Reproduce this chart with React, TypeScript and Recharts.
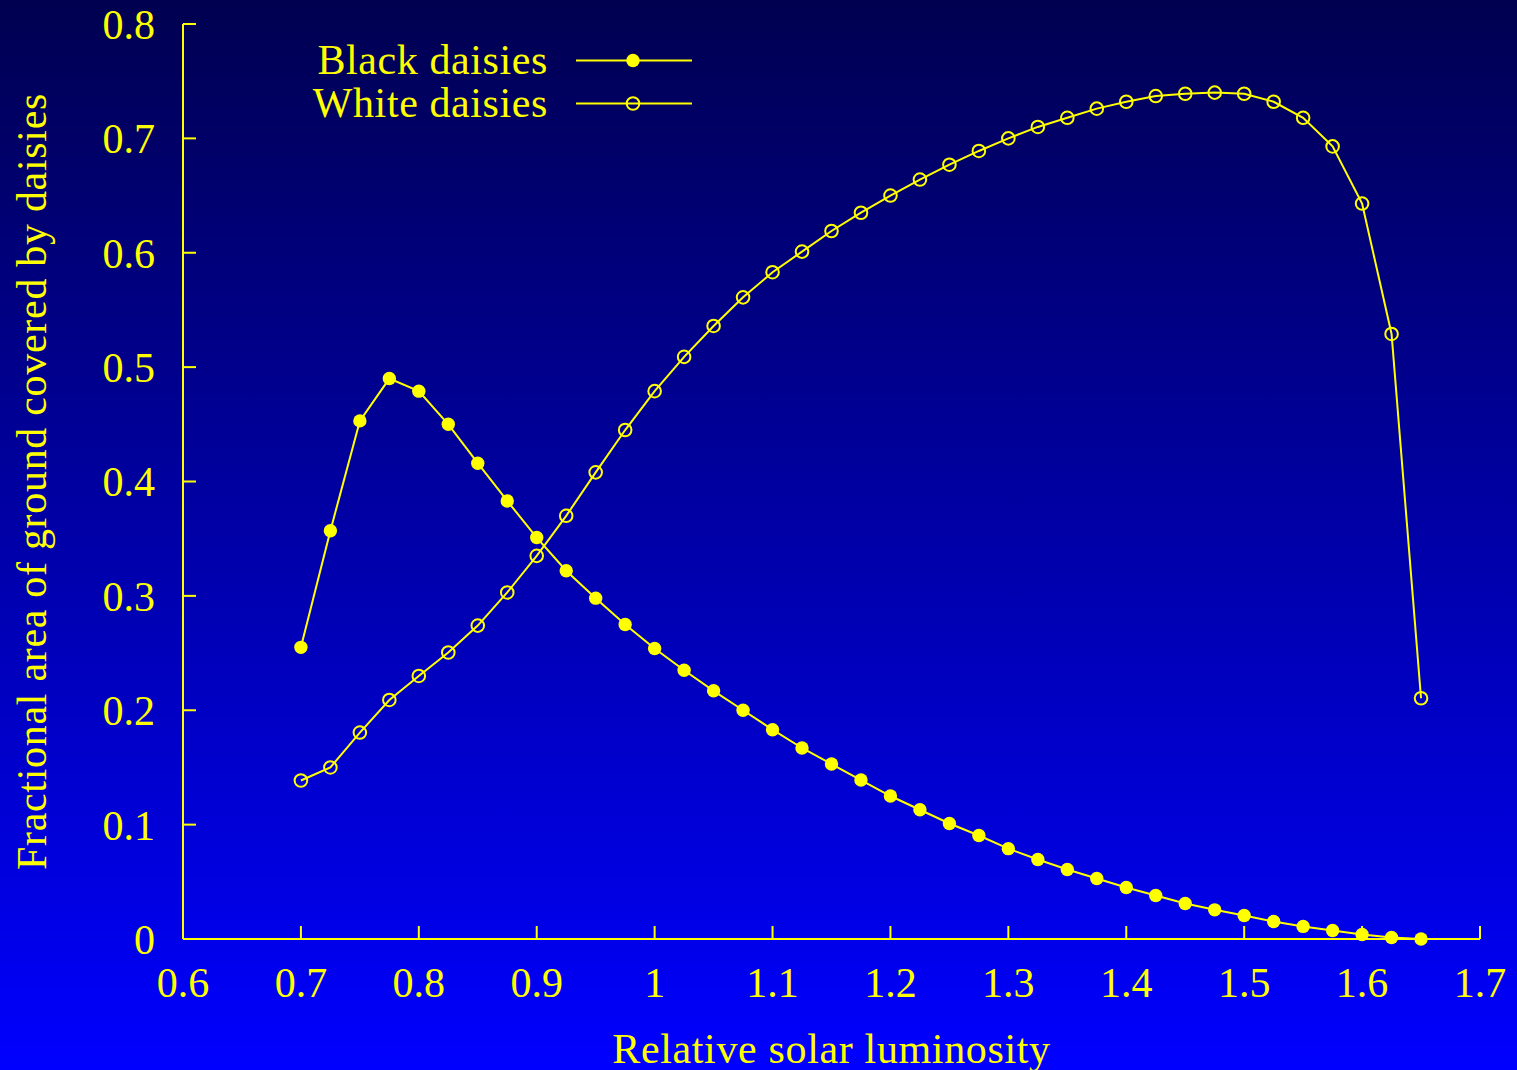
import React from 'react'
import { LineChart, Line, XAxis, YAxis, Legend, Label } from 'recharts'

const luminosity = [
  0.7, 0.725, 0.75, 0.775, 0.8, 0.825, 0.85, 0.875, 0.9, 0.925,
  0.95, 0.975, 1.0, 1.025, 1.05, 1.075, 1.1, 1.125, 1.15, 1.175,
  1.2, 1.225, 1.25, 1.275, 1.3, 1.325, 1.35, 1.375, 1.4, 1.425,
  1.45, 1.475, 1.5, 1.525, 1.55, 1.575, 1.6, 1.625, 1.65,
]

const blackDaisies = [
  0.255, 0.357, 0.453, 0.49, 0.479, 0.45, 0.416, 0.383, 0.351, 0.322,
  0.298, 0.275, 0.254, 0.235, 0.217, 0.2, 0.183, 0.167, 0.153, 0.139,
  0.125, 0.113, 0.101, 0.0905, 0.079, 0.0695, 0.0608, 0.0529, 0.045, 0.038,
  0.031, 0.0255, 0.0205, 0.0153, 0.011, 0.0074, 0.004, 0.0013, 0.0,
]

const whiteDaisies = [
  0.1386, 0.15, 0.1805, 0.209, 0.23, 0.2505, 0.274, 0.303, 0.335, 0.37,
  0.408, 0.445, 0.479, 0.509, 0.536, 0.561, 0.583, 0.601, 0.619, 0.635,
  0.65, 0.664, 0.677, 0.689, 0.7, 0.71, 0.718, 0.726, 0.732, 0.737,
  0.739, 0.74, 0.739, 0.732, 0.718, 0.693, 0.643, 0.529, 0.2105,
]

const xTicks = [0.6, 0.7, 0.8, 0.9, 1, 1.1, 1.2, 1.3, 1.4, 1.5, 1.6, 1.7]
const yTicks = [0, 0.1, 0.2, 0.3, 0.4, 0.5, 0.6, 0.7, 0.8]

const seriesNames = { black: 'Black daisies', white: 'White daisies' }

const YELLOW = '#ffff00'
const FONT = "'Liberation Serif', 'Times New Roman', serif"

const data = luminosity.map((x, i) => ({
  x,
  black: blackDaisies[i],
  white: whiteDaisies[i],
}))

const tickStyle = { fill: YELLOW, fontSize: 42, fontFamily: FONT }
const noLabel = () => ''

// rotated y title, centred on the plot height
const YTitle = (props: any) => {
  const vb = props.viewBox || {}
  const cx = vb.x + 46
  const cy = vb.y + vb.height / 2
  return (
    <text
      x={cx}
      y={cy}
      transform={`rotate(-90 ${cx} ${cy})`}
      textAnchor="middle"
      fill={YELLOW}
      fontSize={42}
      fontFamily={FONT}
      letterSpacing={0.7}
    >
      Fractional area of ground covered by daisies
    </text>
  )
}

const KeyBox = ({ payload }: any) => (
  <div style={{ fontFamily: FONT, fontSize: 42, color: YELLOW, lineHeight: '43px', letterSpacing: '0.6px' }}>
    {(payload || []).map((entry: any) => {
      const filled = entry.dataKey === 'black'
      return (
        <div key={entry.value} style={{ display: 'flex', alignItems: 'center', height: 43 }}>
          <span style={{ width: 248, textAlign: 'right', whiteSpace: 'nowrap' }}>{entry.value}</span>
          <svg width={118} height={43} style={{ marginLeft: 27 }}>
            <line x1={1} x2={117} y1={21.5} y2={21.5} stroke={YELLOW} strokeWidth={2} />
            <circle
              cx={58}
              cy={21.5}
              r={filled ? 6.7 : 6.3}
              fill={filled ? YELLOW : 'none'}
              stroke={YELLOW}
              strokeWidth={filled ? 0 : 2}
            />
          </svg>
        </div>
      )
    })}
  </div>
)

export default function App() {
  return (
    <div
      style={{
        position: 'absolute',
        left: 0,
        top: 0,
        width: 1517,
        height: 1070,
        background: 'linear-gradient(to bottom, #000050 0%, #0000ff 100%)',
      }}
    >
      <LineChart width={1517} height={1070} data={data} margin={{ top: 24, right: 37, bottom: 0, left: 0 }}>
        <XAxis
          dataKey="x"
          type="number"
          domain={[0.6, 1.7]}
          ticks={xTicks}
          interval={0}
          height={131}
          tickSize={-13}
          tickMargin={41}
          tick={tickStyle}
          tickFormatter={(v: number) => String(v)}
          axisLine={{ stroke: YELLOW, strokeWidth: 2 }}
          tickLine={{ stroke: YELLOW, strokeWidth: 2 }}
        >
          <Label
            value="Relative solar luminosity"
            position="insideBottom"
            offset={7}
            fill={YELLOW}
            fontSize={42}
            fontFamily={FONT}
            letterSpacing={0.65}
          />
        </XAxis>
        <XAxis
          xAxisId="top"
          dataKey="x"
          type="number"
          orientation="top"
          domain={[0.6, 1.7]}
          ticks={xTicks}
          interval={0}
          height={0}
          tickSize={-13}
          tick={tickStyle}
          tickFormatter={noLabel}
          axisLine={{ stroke: YELLOW, strokeWidth: 2 }}
          tickLine={{ stroke: YELLOW, strokeWidth: 2 }}
        />
        <YAxis
          type="number"
          domain={[0, 0.8]}
          ticks={yTicks}
          interval={0}
          width={183}
          tickSize={-13}
          tickMargin={41}
          tick={tickStyle}
          tickFormatter={(v: number) => String(v)}
          axisLine={{ stroke: YELLOW, strokeWidth: 2 }}
          tickLine={{ stroke: YELLOW, strokeWidth: 2 }}
          label={{ content: <YTitle /> }}
        />
        <YAxis
          yAxisId="right"
          orientation="right"
          type="number"
          domain={[0, 0.8]}
          ticks={yTicks}
          interval={0}
          width={0}
          tickSize={-13}
          tick={tickStyle}
          tickFormatter={noLabel}
          axisLine={{ stroke: YELLOW, strokeWidth: 2 }}
          tickLine={{ stroke: YELLOW, strokeWidth: 2 }}
        />
        <Legend
          layout="horizontal"
          verticalAlign="middle"
          align="center"
          content={<KeyBox />}
          wrapperStyle={{ left: 300, top: 39, width: 420 }}
        />
        <Line
          dataKey="black"
          name={seriesNames.black}
          stroke={YELLOW}
          strokeWidth={2}
          dot={{ r: 6.7, fill: YELLOW, stroke: YELLOW, strokeWidth: 0 }}
          activeDot={false}
          isAnimationActive={false}
        />
        <Line
          dataKey="white"
          name={seriesNames.white}
          stroke={YELLOW}
          strokeWidth={2}
          dot={{ r: 6.3, fill: 'none', stroke: YELLOW, strokeWidth: 2 }}
          activeDot={false}
          isAnimationActive={false}
        />
      </LineChart>
    </div>
  )
}
